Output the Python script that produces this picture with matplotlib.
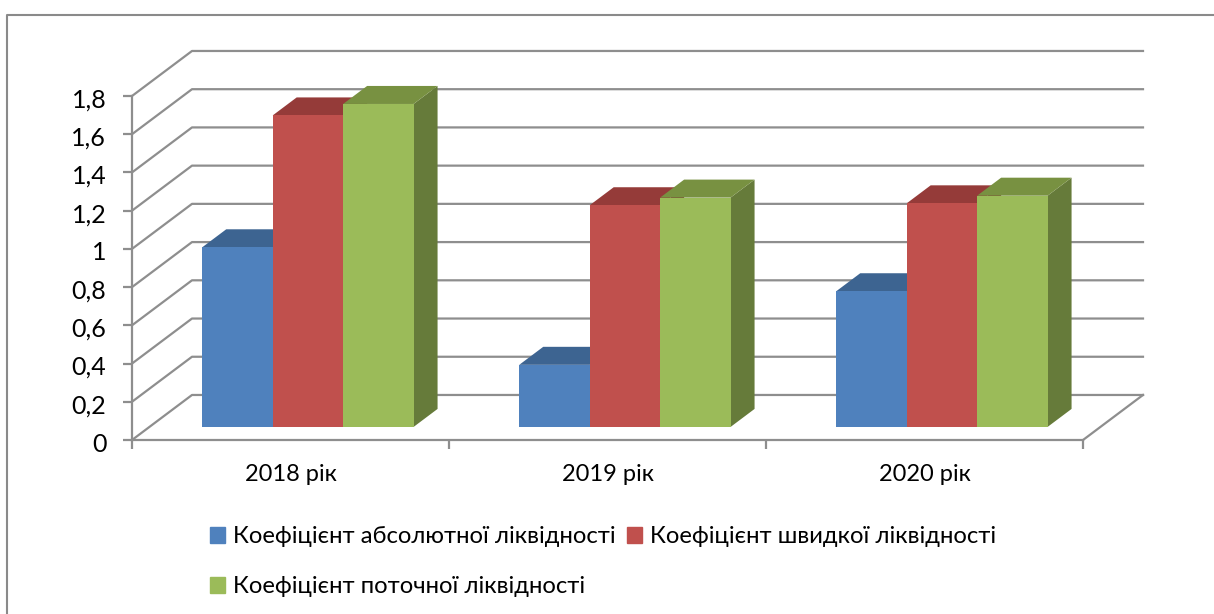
"""Oblique 3D-style clustered bars, drawn on a normal 2D axes."""
import matplotlib
matplotlib.use("Agg")
import matplotlib.pyplot as plt
from matplotlib.lines import Line2D
from matplotlib.patches import Patch, Polygon
from matplotlib.transforms import ScaledTranslation

W, H = 1214, 614

YEARS = ["2018 рік", "2019 рік", "2020 рік"]
ABSOLUTE = [0.94, 0.325, 0.71]
QUICK = [1.63, 1.16, 1.17]
CURRENT = [1.69, 1.20, 1.21]
SERIES_NAMES = ["Коефіцієнт абсолютної ліквідності", "Коефіцієнт швидкої ліквідності",
                "Коефіцієнт поточної ліквідності"]
Y_TICKS = [0, 0.2, 0.4, 0.6, 0.8, 1, 1.2, 1.4, 1.6, 1.8]

FRONT = ["#4f81bd", "#c0504d", "#9bbb59"]
TOP = ["#3d6491", "#953b39", "#789141"]
SIDE = ["#335479", "#7c3130", "#667b3a"]
GRID = "#8e8e8e"

plt.rcParams["font.family"] = ["Lato", "Noto Sans", "DejaVu Sans"]

# oblique offset of the back wall, in data units
DX, DY = 60 / 317, 45 / 191
BAR_W = 1 / 4.5
D0, D1 = 0.29, 0.69


def proj(x, y, d):
    return x + d * DX, y + d * DY


fig = plt.figure(figsize=(W / 100, H / 100), dpi=100)
ax = fig.add_axes([132 / W, 1 - 440 / H, 951 / W, 344 / H])
ax.set_xlim(0, 3)
ax.set_ylim(0, 1.8)
ax.patch.set_visible(False)

for v in Y_TICKS:
    ax.plot(*zip(proj(0, v, 0), proj(0, v, 1), proj(3, v, 1)), color=GRID, lw=1.6, clip_on=False, zorder=1)
ax.plot(*zip(proj(3, 0, 0), proj(3, 0, 1)), color=GRID, lw=1.6, clip_on=False, zorder=1)

z = 2
for s, vals in enumerate([ABSOLUTE, QUICK, CURRENT]):
    for i, v in enumerate(vals):
        x0 = i + 0.5 - 1.5 * BAR_W + s * BAR_W
        x1 = x0 + BAR_W
        side = [proj(x1, 0, D0), proj(x1, 0, D1), proj(x1, v, D1), proj(x1, v, D0)]
        top = [proj(x0, v, D0), proj(x1, v, D0), proj(x1, v, D1), proj(x0, v, D1)]
        front = [proj(x0, 0, D0), proj(x1, 0, D0), proj(x1, v, D0), proj(x0, v, D0)]
        ax.add_patch(Polygon(side, color=SIDE[s], lw=0, clip_on=False, zorder=z))
        ax.add_patch(Polygon(top, color=TOP[s], lw=0, clip_on=False, zorder=z))
        ax.add_patch(Polygon(front, color=FRONT[s], lw=0, clip_on=False, zorder=z + 1))
    z += 2

for name in ["top", "right"]:
    ax.spines[name].set_visible(False)
for name in ["left", "bottom"]:
    ax.spines[name].set_color(GRID)
    ax.spines[name].set_linewidth(1.6)

ax.set_yticks(Y_TICKS)
ax.set_yticklabels([str(v).replace(".", ",") for v in Y_TICKS], fontsize=18, color="black")
ax.set_xticks([0, 1, 2, 3])
ax.set_xticklabels([])
ax.set_xticks([0.5, 1.5, 2.5], minor=True)
ax.set_xticklabels(YEARS, minor=True, fontsize=17, color="black")
ax.tick_params(axis="both", which="major", length=6.5, width=1.6, color=GRID)
ax.tick_params(axis="y", pad=12)
ax.tick_params(axis="x", which="minor", length=0, pad=17)
# digits sit a bit below their tick in the reference
shift = ScaledTranslation(0, -2 / 100, fig.dpi_scale_trans)
for lab in ax.get_yticklabels():
    lab.set_transform(lab.get_transform() + shift)

# outer chart frame runs off the right and bottom of the crop
fig.add_artist(Line2D([7 / W, 7 / W, 1], [0, 1 - 14.5 / H, 1 - 14.5 / H], color="#8a8a8a", lw=1.5))

handles = [Patch(color=c) for c in FRONT]
order = [0, 2, 1]
fig.legend([handles[i] for i in order], [SERIES_NAMES[i] for i in order], ncol=2,
           loc="upper left", bbox_to_anchor=(203 / W, 1 - 519 / H), frameon=False, fontsize=17.2,
           handlelength=0.63, handleheight=0.63, handletextpad=0.33, columnspacing=0.46,
           labelspacing=1.22, borderpad=0.3, borderaxespad=0)

fig.savefig("out.png", dpi=100)
